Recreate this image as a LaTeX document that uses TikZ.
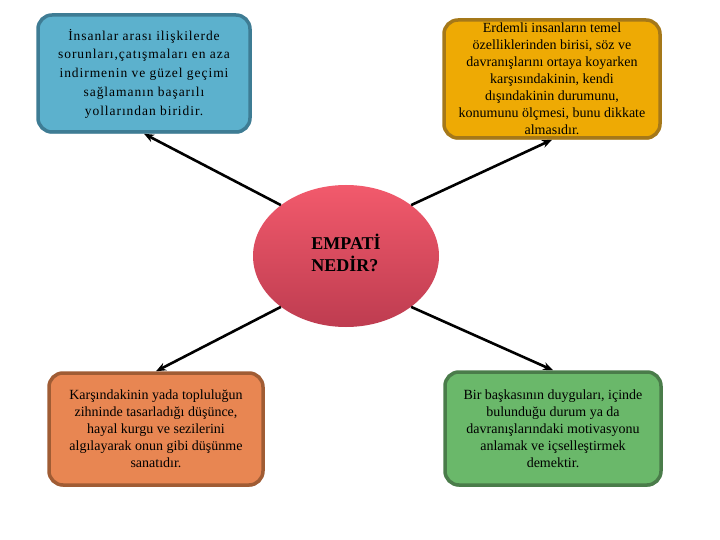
\documentclass[tikz,border=0pt]{standalone}
\usepackage{fontspec}
\setmainfont{Liberation Serif}
\newfontfamily\spacedfont[LetterSpace=7]{Liberation Serif}
\usetikzlibrary{shapes.geometric,arrows.meta,shadows}
\definecolor{tlf}{RGB}{92,177,205}
\definecolor{tlb}{RGB}{62,124,148}
\definecolor{trf}{RGB}{238,170,4}
\definecolor{trb}{RGB}{165,120,25}
\definecolor{blf}{RGB}{232,134,82}
\definecolor{blb}{RGB}{160,92,52}
\definecolor{brf}{RGB}{106,184,106}
\definecolor{brb}{RGB}{74,124,74}
\definecolor{etop}{RGB}{242,90,108}
\definecolor{ebot}{RGB}{190,60,80}
\begin{document}
\begin{tikzpicture}[x=1pt,y=-1pt,
  box/.style={rectangle, rounded corners=14pt, line width=3.5pt, inner sep=0pt,
    align=center, font=\fontsize{14}{17}\selectfont},
  arr/.style={-{Stealth[length=10pt,width=8pt]}, line width=2.6pt, black}]
\useasboundingbox (0,0) rectangle (720,540);
\fill[white] (0,0) rectangle (720,540);
\node[box, draw=tlb, fill=tlf, minimum width=212, minimum height=117,
  font=\spacedfont\fontsize{13.5}{18.7}\selectfont,
  drop shadow={shadow xshift=0.5pt, shadow yshift=-1.5pt, fill=tlb, opacity=1}] (tl) at (144,73.5)
  {İnsanlar arası ilişkilerde\\sorunları,çatışmaları en aza\\indirmenin ve güzel geçimi\\sağlamanın başarılı\\yollarından biridir.};
\node[box, draw=trb, fill=trf, minimum width=216, minimum height=118,
  drop shadow={shadow xshift=0.5pt, shadow yshift=-1.5pt, fill=trb, opacity=1}] (tr) at (552,79)
  {Erdemli insanların temel\\özelliklerinden birisi, söz ve\\davranışlarını ortaya koyarken\\karşısındakinin, kendi\\dışındakinin durumunu,\\konumunu ölçmesi, bunu dikkate\\almasıdır.};
\node[box, draw=blb, fill=blf, minimum width=214, minimum height=112,
  drop shadow={shadow xshift=0.5pt, shadow yshift=-1.5pt, fill=blb, opacity=1}] (bl) at (156,429)
  {Karşındakinin yada topluluğun\\zihninde tasarladığı düşünce,\\hayal kurgu ve sezilerini\\algılayarak onun gibi düşünme\\sanatıdır.};
\node[box, draw=brb, fill=brf, minimum width=216, minimum height=113,
  drop shadow={shadow xshift=0.5pt, shadow yshift=-1.5pt, fill=brb, opacity=1}] (br) at (553,428.5)
  {Bir başkasının duyguları, içinde\\bulunduğu durum ya da\\davranışlarındaki motivasyonu\\anlamak ve içselleştirmek\\demektir.};
\node[ellipse, top color=etop, bottom color=ebot, minimum width=186, minimum height=142,
  inner sep=0pt, align=left, font=\bfseries\fontsize{18}{21}\selectfont] (e) at (346,256)
  {\raisebox{4pt}{\begin{tabular}{@{}l@{}}EMPATİ\\NEDİR?\end{tabular}}};
\draw[arr] (e.142) -- (tl.south);
\draw[arr] (e.38) -- (tr.south);
\draw[arr] (e.218) -- (bl.north);
\draw[arr] (e.322) -- (br.north);
\end{tikzpicture}
\end{document}
